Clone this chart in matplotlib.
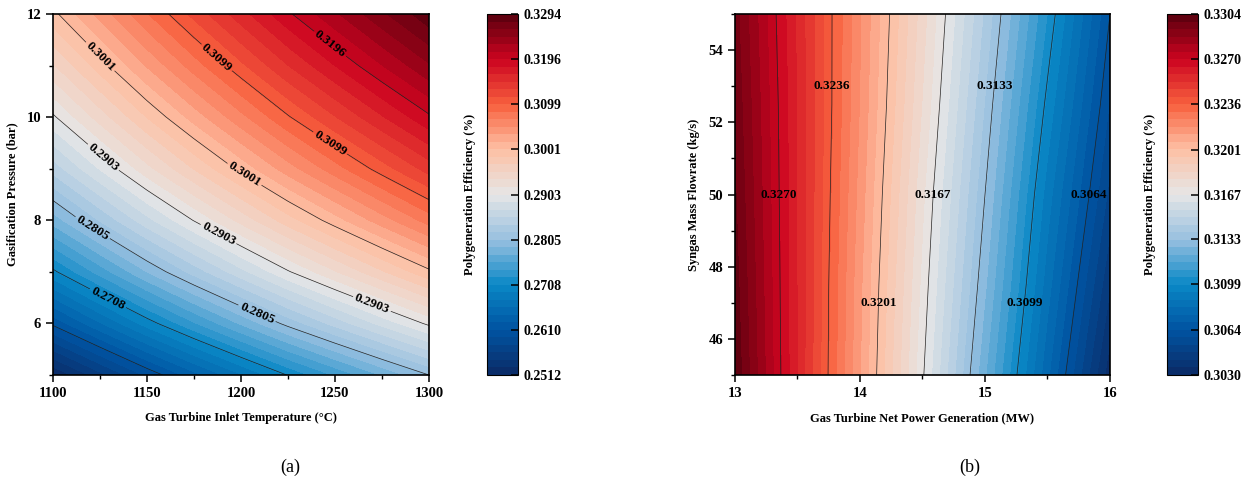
import numpy as np
import matplotlib
matplotlib.use("Agg")
import matplotlib.pyplot as plt
from matplotlib.colors import LinearSegmentedColormap
from matplotlib.ticker import MultipleLocator

plt.rcParams['font.family'] = ['Liberation Serif', 'DejaVu Serif']
plt.rcParams['font.weight'] = 'bold'
plt.rcParams['axes.labelweight'] = 'bold'
plt.rcParams['font.size'] = 9

# ── (a) efficiency vs. inlet temperature and gasification pressure ──
temp_a = [1100, 1125, 1150, 1175, 1200, 1225, 1250, 1275, 1300]
pres_a = [5, 6, 7, 8, 9, 10, 11, 12]
eff_a = [
    [0.2512, 0.2555, 0.2597, 0.2636, 0.2673, 0.2709, 0.2742, 0.2774, 0.2805],
    [0.2614, 0.2657, 0.2699, 0.2738, 0.2775, 0.2811, 0.2844, 0.2876, 0.2907],
    [0.2704, 0.2747, 0.2789, 0.2828, 0.2865, 0.2901, 0.2934, 0.2966, 0.2997],
    [0.2780, 0.2823, 0.2865, 0.2904, 0.2941, 0.2977, 0.3010, 0.3042, 0.3073],
    [0.2845, 0.2888, 0.2930, 0.2969, 0.3006, 0.3042, 0.3075, 0.3107, 0.3138],
    [0.2900, 0.2943, 0.2985, 0.3024, 0.3061, 0.3097, 0.3130, 0.3162, 0.3193],
    [0.2950, 0.2993, 0.3035, 0.3074, 0.3111, 0.3147, 0.3180, 0.3212, 0.3243],
    [0.2996, 0.3039, 0.3081, 0.3120, 0.3157, 0.3193, 0.3226, 0.3258, 0.3289],
]
ticks_a = [0.2512, 0.2610, 0.2708, 0.2805, 0.2903, 0.3001, 0.3099, 0.3196, 0.3294]
labels_a = [(1125, 11.17), (1187, 11.15), (1246, 11.36), (1246, 9.42),
            (1127, 9.23), (1201, 8.84), (1121, 7.85), (1187, 7.66),
            (1128, 6.40), (1207, 6.07), (1268, 6.22)]

# ── (b) efficiency vs. GT net power and syngas mass flowrate ──
power_b = [13.0, 13.5, 14.0, 14.5, 15.0, 15.5, 16.0]
flow_b = [45.0, 47.5, 50.0, 52.5, 55.0]
eff_b = [
    [0.3303, 0.3258, 0.3213, 0.3168, 0.3122, 0.3077, 0.3032],
    [0.3301, 0.3258, 0.3214, 0.3171, 0.3128, 0.3084, 0.3042],
    [0.3299, 0.3258, 0.3216, 0.3174, 0.3133, 0.3090, 0.3051],
    [0.3297, 0.3258, 0.3218, 0.3178, 0.3138, 0.3097, 0.3058],
    [0.3295, 0.3257, 0.3219, 0.3181, 0.3143, 0.3104, 0.3064],
]
ticks_b = [0.3030, 0.3064, 0.3099, 0.3133, 0.3167, 0.3201, 0.3236, 0.3270, 0.3304]
labels_b = [(13.35, 50), (13.78, 53), (14.15, 47), (14.58, 50),
            (15.07, 53), (15.31, 47), (15.82, 50)]

# colour scale similar to the Origin red-blue palette
cmap = LinearSegmentedColormap.from_list('rb', [
    (0.000, '#0b2a66'), (0.125, '#0054a2'), (0.250, '#0a88c6'),
    (0.375, '#98c0e0'), (0.500, '#e6e6e6'), (0.625, '#fdc0a4'),
    (0.750, '#f8603e'), (0.875, '#cc0420'), (1.000, '#5a000e')])

fig = plt.figure(figsize=(12.43, 4.9), dpi=100)


def panel(ax_rect, cb_rect, x, y, z, ticks, label_pos, rotate, xlabel, ylabel):
    ax = fig.add_axes(ax_rect)
    cax = fig.add_axes(cb_rect)
    X, Y = np.meshgrid(x, y)
    Z = np.array(z)
    fill_levels = np.linspace(ticks[0], ticks[-1], 49)
    cf = ax.contourf(X, Y, Z, levels=fill_levels, cmap=cmap)
    cs = ax.contour(X, Y, Z, levels=ticks[1:-1], colors='#222222', linewidths=0.5)
    fmt = {lv: f'{lv:.4f}' for lv in ticks[1:-1]}
    texts = ax.clabel(cs, fmt=fmt, manual=label_pos, inline=rotate,
                      fontsize=9.5, colors='black', inline_spacing=2)
    if not rotate:
        for t in texts:
            t.set_rotation(0)
    ax.set_xlim(x[0], x[-1])
    ax.set_ylim(y[0], y[-1])
    ax.set_xlabel(xlabel, fontsize=9, labelpad=9)
    ax.set_ylabel(ylabel, fontsize=9, labelpad=6)
    ax.tick_params(which='major', direction='out', length=5, width=1.1, labelsize=10.5)
    ax.tick_params(which='minor', direction='out', length=3, width=1.0)
    for s in ax.spines.values():
        s.set_linewidth(1.2)

    cb = fig.colorbar(cf, cax=cax, ticks=ticks)
    cb.ax.set_yticklabels([f'{t:.4f}' for t in ticks])
    cb.ax.set_ylim(ticks[0], ticks[-1])
    cb.ax.tick_params(direction='in', length=5, width=1.1, labelsize=10, pad=4)
    cb.outline.set_linewidth(0.8)
    cb.set_label('Polygeneration Efficiency (%)', fontsize=9, labelpad=8)
    cb.ax.yaxis.set_label_position('left')
    return ax


ax_a = panel([0.0426, 0.2347, 0.3025, 0.7367], [0.3918, 0.2347, 0.0249, 0.7367],
             temp_a, pres_a, eff_a, ticks_a, labels_a, True,
             'Gas Turbine Inlet Temperature (°C)', 'Gasification Pressure (bar)')
ax_a.xaxis.set_major_locator(MultipleLocator(50))
ax_a.xaxis.set_minor_locator(MultipleLocator(25))
ax_a.yaxis.set_major_locator(MultipleLocator(2))
ax_a.yaxis.set_minor_locator(MultipleLocator(1))

ax_b = panel([0.5913, 0.2347, 0.3017, 0.7367], [0.9389, 0.2347, 0.0249, 0.7367],
             power_b, flow_b, eff_b, ticks_b, labels_b, False,
             'Gas Turbine Net Power Generation (MW)', 'Syngas Mass Flowrate (kg/s)')
ax_b.xaxis.set_major_locator(MultipleLocator(1))
ax_b.xaxis.set_minor_locator(MultipleLocator(0.5))
ax_b.yaxis.set_major_locator(MultipleLocator(2))
ax_b.yaxis.set_minor_locator(MultipleLocator(1))

fig.text(290 / 1243, 1 - 467 / 490, '(a)', fontsize=13, fontweight='normal',
         ha='center', va='center')
fig.text(970 / 1243, 1 - 467 / 490, '(b)', fontsize=13, fontweight='normal',
         ha='center', va='center')

fig.savefig('out.png', dpi=100)
